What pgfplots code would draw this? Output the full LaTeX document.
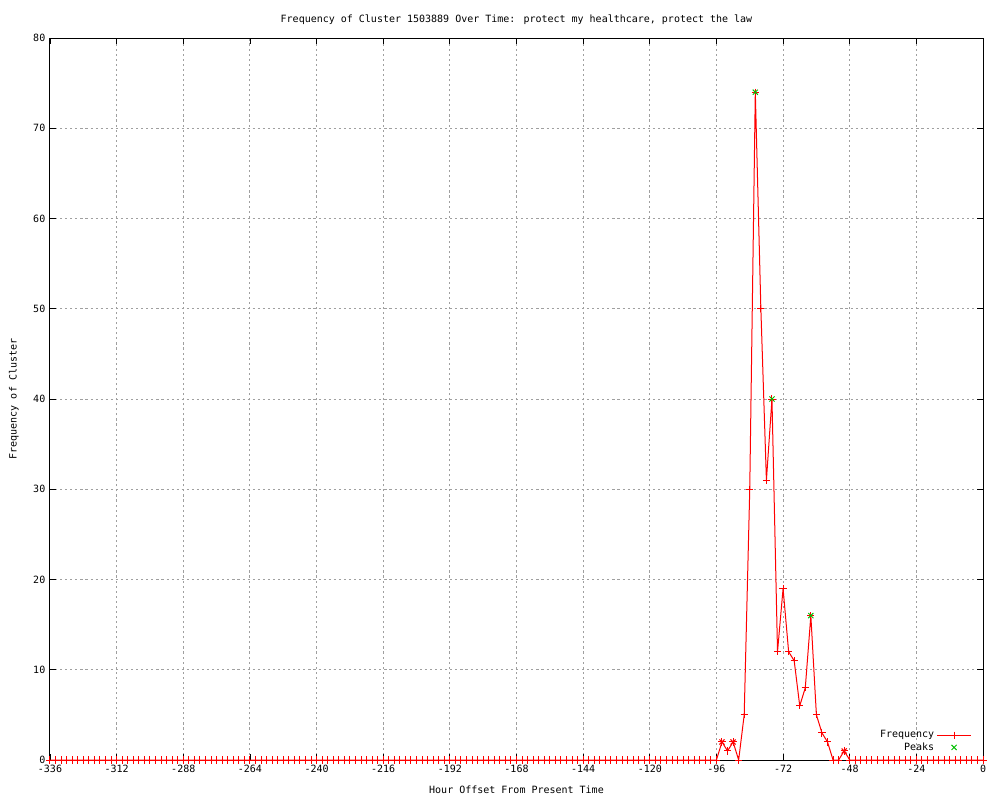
\documentclass[border=0pt]{standalone}
\usepackage{fontspec}
\setmainfont{DejaVu Sans Mono}
\usepackage{pgfplots}
\usepackage{pgfplotstable}
\pgfplotsset{compat=1.18}
\pgfplotsset{
  longline legend/.style={legend image code/.code={\draw[mark repeat=2,mark phase=2,##1] plot coordinates {(0cm,0cm) (0.44cm,0cm) (0.88cm,0cm)};}},
  centermark legend/.style={legend image code/.code={\draw[##1] plot coordinates {(0.44cm,0cm)};}},
}
\pgfplotstableread{
x y
-336 0
-334 0
-332 0
-330 0
-328 0
-326 0
-324 0
-322 0
-320 0
-318 0
-316 0
-314 0
-312 0
-310 0
-308 0
-306 0
-304 0
-302 0
-300 0
-298 0
-296 0
-294 0
-292 0
-290 0
-288 0
-286 0
-284 0
-282 0
-280 0
-278 0
-276 0
-274 0
-272 0
-270 0
-268 0
-266 0
-264 0
-262 0
-260 0
-258 0
-256 0
-254 0
-252 0
-250 0
-248 0
-246 0
-244 0
-242 0
-240 0
-238 0
-236 0
-234 0
-232 0
-230 0
-228 0
-226 0
-224 0
-222 0
-220 0
-218 0
-216 0
-214 0
-212 0
-210 0
-208 0
-206 0
-204 0
-202 0
-200 0
-198 0
-196 0
-194 0
-192 0
-190 0
-188 0
-186 0
-184 0
-182 0
-180 0
-178 0
-176 0
-174 0
-172 0
-170 0
-168 0
-166 0
-164 0
-162 0
-160 0
-158 0
-156 0
-154 0
-152 0
-150 0
-148 0
-146 0
-144 0
-142 0
-140 0
-138 0
-136 0
-134 0
-132 0
-130 0
-128 0
-126 0
-124 0
-122 0
-120 0
-118 0
-116 0
-114 0
-112 0
-110 0
-108 0
-106 0
-104 0
-102 0
-100 0
-98 0
-96 0
-94 2
-92 1
-90 2
-88 0
-86 5
-84 30
-82 74
-80 50
-78 31
-76 40
-74 12
-72 19
-70 12
-68 11
-66 6
-64 8
-62 16
-60 5
-58 3
-56 2
-54 0
-52 0
-50 1
-48 0
-46 0
-44 0
-42 0
-40 0
-38 0
-36 0
-34 0
-32 0
-30 0
-28 0
-26 0
-24 0
-22 0
-20 0
-18 0
-16 0
-14 0
-12 0
-10 0
-8 0
-6 0
-4 0
-2 0
0 0
}\freqdata
\pgfplotstableread{
x y
-82 74
-76 40
-62 16
}\peakdata
\pgfplotstableread{
x y
-94 2
-90 2
-50 1
}\minorpeaks
\begin{document}
\begin{tikzpicture}
\path (-37.5pt,-30pt) rectangle (712.5pt,570pt);
\begin{axis}[
  at={(0,0)}, anchor=south west,
  scale only axis,
  width=699.75pt, height=541.5pt,
  xmin=-336, xmax=0, ymin=0, ymax=80,
  xtick distance=24, ytick distance=10,
  tick align=inside,
  major tick length=4.5pt,
  tick style={black, line width=0.6pt},
  axis line style={black, line width=0.75pt},
  grid=major,
  major grid style={gray!75, dash pattern=on 1.6pt off 2.2pt, line width=0.75pt},
  font=\fontsize{7.5pt}{9pt}\selectfont,
  tick label style={font=\fontsize{7.5pt}{9pt}\selectfont},
  /pgf/number format/assume math mode=true,
  /pgf/number format/1000 sep={},
  title={Frequency of Cluster 1503889 Over Time: protect my healthcare, protect the law},
  title style={at={(0.5,1)}, anchor=south, yshift=0.5pt},
  xlabel={Hour Offset From Present Time},
  ylabel={Frequency of Cluster},
  xlabel style={yshift=-3.5pt},
  ylabel style={yshift=4pt},
  legend style={draw=none, fill=none, at={(0.992,0.003)}, anchor=south east,
    font=\fontsize{7.5pt}{9pt}\selectfont, row sep=-2pt,
    /tikz/every even column/.append style={column sep=3pt}},
  legend cell align=right,
  legend plot pos=right,
  clip=false,
]
\addplot[red, line width=0.75pt, mark=+, mark size=2.7pt, mark options={line width=0.75pt}, longline legend] table {\freqdata};
\addlegendentry{Frequency}
\addplot[only marks, color={rgb,255:red,0;green,190;blue,0}, mark=x, mark size=2.7pt, mark options={line width=0.75pt}, centermark legend] table {\peakdata};
\addlegendentry{Peaks}
\addplot[only marks, red, mark=x, mark size=2.7pt, mark options={line width=0.75pt}, forget plot] table {\minorpeaks};
\end{axis}
\end{tikzpicture}
\end{document}
